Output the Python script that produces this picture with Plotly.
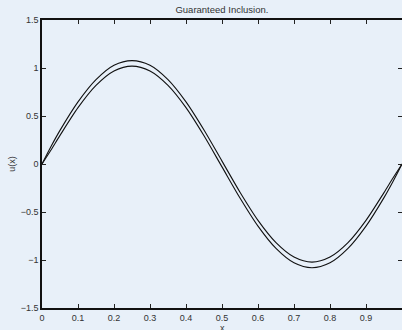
import plotly.graph_objects as go

x_vals = [0.0, 0.025, 0.05, 0.1, 0.15, 0.2, 0.25, 0.3, 0.35, 0.4, 0.45, 0.5,
          0.55, 0.6, 0.65, 0.7, 0.75, 0.8, 0.85, 0.9, 0.95, 0.975, 1.0]
upper = [0.0, 0.182, 0.350, 0.647, 0.879, 1.029, 1.077, 1.029, 0.879, 0.647, 0.354, 0.03,
         -0.294, -0.587, -0.819, -0.969, -1.022, -0.969, -0.819, -0.587, -0.298, -0.146, 0.0]
lower = [0.0, 0.146, 0.298, 0.587, 0.819, 0.969, 1.020, 0.969, 0.819, 0.587, 0.294, -0.03,
         -0.354, -0.647, -0.879, -1.029, -1.080, -1.029, -0.879, -0.647, -0.350, -0.182, 0.0]
x_ticks = [0, 0.1, 0.2, 0.3, 0.4, 0.5, 0.6, 0.7, 0.8, 0.9, 1]
x_tick_text = ["0", "0.1", "0.2", "0.3", "0.4", "0.5", "0.6", "0.7", "0.8", "0.9", "1"]
y_ticks = [-1.5, -1, -0.5, 0, 0.5, 1, 1.5]
y_tick_text = ["\u22121.5", "\u22121", "\u22120.5", "0", "0.5", "1", "1.5"]

bg = "#E8F0F9"
font = "Liberation Sans, Arial, sans-serif"
txt = "#333333"

fig = go.Figure()
for ys in (upper, lower):
    fig.add_trace(go.Scatter(x=x_vals, y=ys, mode="lines",
                             line=dict(color="#111111", width=1.1, shape="spline", smoothing=0.8),
                             showlegend=False, hoverinfo="skip"))

fig.update_layout(
    width=402, height=330,
    margin=dict(l=42, r=0, t=20, b=22),
    paper_bgcolor=bg, plot_bgcolor=bg,
    font=dict(family=font, size=9, color=txt),
    title=dict(text="Guaranteed Inclusion.", x=0.552, xanchor="center", y=0.97, yanchor="middle",
               font=dict(family=font, size=9.5, color=txt)),
    xaxis=dict(range=[0, 1], tickvals=x_ticks, ticktext=x_tick_text, ticks="inside", ticklen=4,
               tickcolor="#222222", showline=True, linecolor="#111111", linewidth=1.5, mirror="ticks",
               showgrid=False, zeroline=False, automargin=False,
               tickfont=dict(size=9, color=txt)),
    yaxis=dict(range=[-1.5, 1.5], tickvals=y_ticks, ticktext=y_tick_text, ticks="inside", ticklen=4,
               tickcolor="#222222", showline=True, linecolor="#111111", linewidth=1.5, mirror="ticks",
               showgrid=False, zeroline=False, automargin=False,
               title=dict(text="u(x)", standoff=4, font=dict(family=font, size=9, color=txt)),
               tickfont=dict(size=9, color=txt)),
    annotations=[dict(text="x", xref="x domain", yref="paper", x=0.5, y=0, yshift=-20,
                      xanchor="center", yanchor="middle", showarrow=False,
                      font=dict(family=font, size=9, color=txt))],
)

fig.write_html("out.html", config={"displayModeBar": False},
               post_script="document.body.style.margin='0';document.body.style.overflow='hidden';document.body.style.background='" + bg + "';")
